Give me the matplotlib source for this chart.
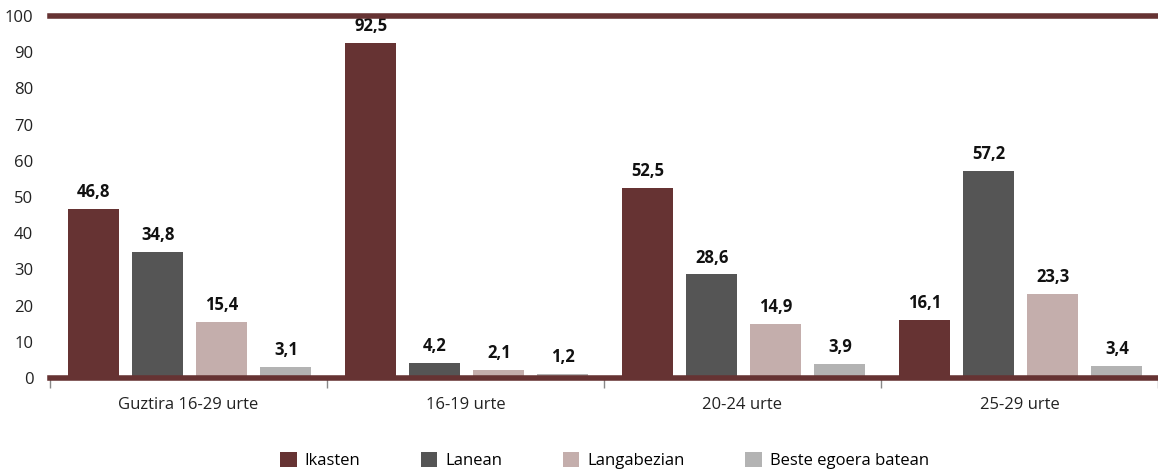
import matplotlib
matplotlib.use("Agg")
import matplotlib.pyplot as plt
import numpy as np

categories = ["Guztira 16-29 urte", "16-19 urte", "20-24 urte", "25-29 urte"]
series_names = ["Ikasten", "Lanean", "Langabezian", "Beste egoera batean"]
ikasten = [46.8, 92.5, 52.5, 16.1]
lanean = [34.8, 4.2, 28.6, 57.2]
langabezian = [15.4, 2.1, 14.9, 23.3]
beste = [3.1, 1.2, 3.9, 3.4]
yticks = [0, 10, 20, 30, 40, 50, 60, 70, 80, 90, 100]

colors = ["#663333", "#555555", "#c4aeac", "#b3b3b3"]
plt.rcParams['font.family'] = ['Open Sans', 'DejaVu Sans']

fig = plt.figure(figsize=(11.58, 4.70), dpi=100)
ax = fig.add_axes([50/1158, 92/470, 1 - 50/1158, 362/470])

x = np.arange(len(categories))
bw = 0.184
step = 0.231
all_series = [ikasten, lanean, langabezian, beste]
handles = []
for i, (vals, c, name) in enumerate(zip(all_series, colors, series_names)):
    pos = x + (i - 1.5) * step + 0.005
    b = ax.bar(pos, vals, width=bw, color=c, label=name, zorder=2)
    handles.append(b)
    for px, v in zip(pos, vals):
        ax.text(px, v + 2.2, f"{v:.1f}".replace(".", ","), ha="center", va="bottom",
                fontsize=12, fontweight="bold", color="#111111")

ax.set_xlim(-0.5, len(categories) - 0.5)
ax.set_ylim(0, 100)
ax.set_yticks(yticks)
ax.set_yticklabels([str(t) for t in yticks], fontsize=12, color="#222222")
ax.tick_params(axis="y", length=0, pad=12)

ax.set_xticks(x)
ax.set_xticklabels(categories, fontsize=12, color="#222222")
ax.tick_params(axis="x", length=0, pad=14)
ax.set_xticks(np.arange(len(categories) + 1) - 0.5, minor=True)
ax.tick_params(axis="x", which="minor", length=7, width=1, color="#888888", direction="out")

for s in ["left", "right", "top", "bottom"]:
    ax.spines[s].set_visible(False)

ax.axhline(0, color="#663333", linewidth=4, zorder=3, clip_on=False)
ax.axhline(100, color="#663333", linewidth=4, zorder=3, clip_on=False)

fig.legend(handles=handles, labels=series_names, loc="lower center", ncol=4,
           bbox_to_anchor=(0.522, -0.03), frameon=False, fontsize=12,
           handlelength=1.0, handleheight=1.0, columnspacing=3.6, handletextpad=0.5)

fig.savefig("out.png", dpi=100)
